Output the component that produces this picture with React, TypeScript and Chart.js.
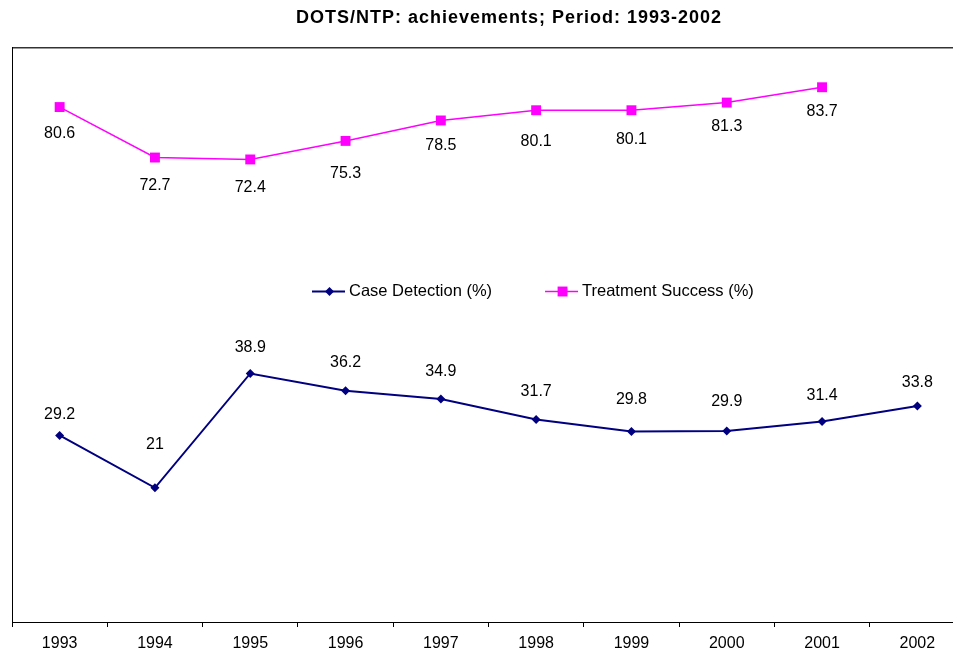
import React, { useEffect, useRef } from 'react';
import { Chart, registerables } from 'chart.js';

Chart.register(...registerables);

// ---------- data ----------
const years = ['1993', '1994', '1995', '1996', '1997', '1998', '1999', '2000', '2001', '2002'];
const caseDetection = [29.2, 21, 38.9, 36.2, 34.9, 31.7, 29.8, 29.9, 31.4, 33.8];
const treatmentSuccess = [80.6, 72.7, 72.4, 75.3, 78.5, 80.1, 80.1, 81.3, 83.7, null];
const seriesNames = ['Case Detection (%)', 'Treatment Success (%)'];
const titleText = 'DOTS/NTP: achievements; Period: 1993-2002';
const yMin = 0;
const yMax = 90;

// ---------- label placement (pixels, style only) ----------
const detectionLabelShift = [-21, -43, -26, -28, -27, -28, -32, -29, -26, -23];
const treatmentLabelShift = [27, 28, 28, 33, 25, 31, 29, 24, 24, 0];

const FONT = '"Liberation Sans", Arial, sans-serif';
const NAVY = '#000080';
const MAGENTA = '#FF00FF';

const titlePlugin = {
  id: 'customTitle',
  afterDraw(chart: any) {
    const ctx = chart.ctx;
    ctx.save();
    ctx.font = `bold 18px ${FONT}`;
    (ctx as any).letterSpacing = '1px';
    ctx.fillStyle = '#000';
    ctx.textAlign = 'center';
    ctx.textBaseline = 'middle';
    ctx.fillText(titleText, 509, 18);
    ctx.restore();
  },
};

const framePlugin = {
  id: 'frame',
  beforeDatasetsDraw(chart: any) {
    const { ctx, chartArea } = chart;
    ctx.save();
    ctx.fillStyle = '#333';
    ctx.fillRect(chartArea.left, chartArea.top, chartArea.right - chartArea.left, 1);
    ctx.fillStyle = '#999';
    ctx.fillRect(chartArea.left, chartArea.top + 1, chartArea.right - chartArea.left, 1);
    ctx.fillStyle = '#000';
    ctx.fillRect(chartArea.left, chartArea.top, 1, chartArea.bottom - chartArea.top + 1);
    ctx.restore();
  },
};

const labelPlugin = {
  id: 'pointLabels',
  afterDatasetsDraw(chart: any) {
    const ctx = chart.ctx;
    const shifts = [detectionLabelShift, treatmentLabelShift];
    ctx.save();
    ctx.font = `16px ${FONT}`;
    ctx.fillStyle = '#000';
    ctx.textAlign = 'center';
    ctx.textBaseline = 'middle';
    chart.data.datasets.forEach((ds: any, di: number) => {
      const meta = chart.getDatasetMeta(di);
      meta.data.forEach((pt: any, i: number) => {
        const v = ds.data[i];
        if (v === null || v === undefined) return;
        ctx.fillText(String(v), pt.x, pt.y + shifts[di][i]);
      });
    });
    ctx.restore();
  },
};

const legendPlugin = {
  id: 'customLegend',
  afterDraw(chart: any) {
    const ctx = chart.ctx;
    const y = 291.5;
    let x = chart.chartArea.left + 300;
    ctx.save();
    ctx.font = `16.5px ${FONT}`;
    ctx.textBaseline = 'middle';
    ctx.textAlign = 'left';
    chart.data.datasets.forEach((ds: any) => {
      ctx.strokeStyle = ds.borderColor;
      ctx.lineWidth = ds.borderWidth;
      ctx.beginPath();
      ctx.moveTo(x, y);
      ctx.lineTo(x + 33, y);
      ctx.stroke();
      ctx.fillStyle = ds.backgroundColor;
      const mx = x + 17.5;
      if (ds.pointStyle === 'rectRot') {
        const r = ds.pointRadius;
        ctx.beginPath();
        ctx.moveTo(mx, y - r);
        ctx.lineTo(mx + r, y);
        ctx.lineTo(mx, y + r);
        ctx.lineTo(mx - r, y);
        ctx.closePath();
        ctx.fill();
      } else {
        const s = ds.pointRadius * Math.SQRT1_2;
        ctx.fillRect(mx - s, y - s, 2 * s, 2 * s);
      }
      ctx.fillStyle = '#000';
      const tx = x + 37;
      ctx.fillText(ds.label, tx, y);
      x = tx + ctx.measureText(ds.label).width + 53;
    });
    ctx.restore();
  },
};

export default function App() {
  const ref = useRef<HTMLCanvasElement>(null);

  useEffect(() => {
    const chart = new Chart(ref.current as HTMLCanvasElement, {
      type: 'line',
      data: {
        labels: years,
        datasets: [
          {
            label: seriesNames[0],
            data: caseDetection,
            borderColor: NAVY,
            backgroundColor: NAVY,
            borderWidth: 2,
            pointStyle: 'rectRot',
            pointRadius: 4.5,
            pointBorderWidth: 0,
            tension: 0,
          },
          {
            label: seriesNames[1],
            data: treatmentSuccess,
            borderColor: MAGENTA,
            backgroundColor: MAGENTA,
            borderWidth: 1.5,
            pointStyle: 'rect',
            pointRadius: 7,
            pointBorderWidth: 0,
            tension: 0,
          },
        ],
      } as any,
      options: {
        animation: false,
        responsive: false,
        devicePixelRatio: 1,
        events: [],
        layout: { padding: { left: 12, top: 47, right: 0, bottom: 0 } },
        plugins: {
          legend: { display: false },
          title: { display: false },
          tooltip: { enabled: false },
        },
        scales: {
          x: {
            type: 'category',
            offset: true,
            grid: {
              display: true,
              drawOnChartArea: false,
              drawTicks: true,
              tickLength: 5,
              offset: true,
              color: '#000',
            },
            border: { display: true, color: '#000', width: 1 },
            ticks: {
              color: '#000',
              font: { family: FONT, size: 16 },
              padding: 7,
              maxRotation: 0,
              autoSkip: false,
            },
            afterFit: (scale: any) => {
              scale.height = 29;
            },
          },
          y: {
            display: false,
            min: yMin,
            max: yMax,
          },
        },
      } as any,
      plugins: [framePlugin, labelPlugin, legendPlugin, titlePlugin],
    });
    return () => chart.destroy();
  }, []);

  return (
    <div
      style={{
        position: 'fixed',
        left: 0,
        top: 0,
        width: 953,
        height: 651,
        overflow: 'hidden',
        background: '#fff',
      }}
    >
      <canvas ref={ref} width={972} height={651} style={{ display: 'block', width: 972, height: 651 }} />
    </div>
  );
}
